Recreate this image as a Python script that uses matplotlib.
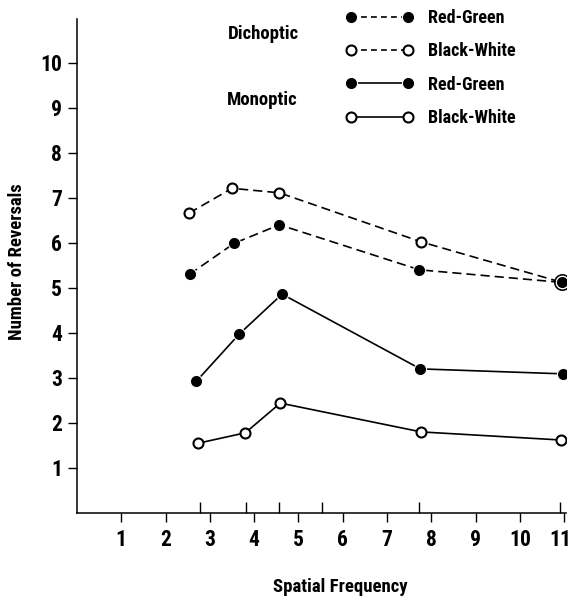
import matplotlib
matplotlib.use('Agg')
import matplotlib.pyplot as plt
import matplotlib.transforms as mtransforms
from matplotlib.lines import Line2D

plt.rcParams['font.family'] = ['Roboto Condensed', 'PT Sans Narrow', 'Archivo Narrow',
                               'Liberation Sans Narrow', 'DejaVu Sans']
plt.rcParams['font.weight'] = 'bold'

# Dichoptic
dich_rg_x = [2.54, 3.55, 4.57, 7.73, 10.95]
dich_rg_y = [5.30, 5.99, 6.40, 5.40, 5.12]
dich_bw_x = [2.53, 3.50, 4.57, 7.77, 10.95]
dich_bw_y = [6.66, 7.21, 7.11, 6.02, 5.12]

# Monoptic
mono_rg_x = [2.69, 3.66, 4.63, 7.75, 10.96]
mono_rg_y = [2.92, 3.97, 4.86, 3.20, 3.09]
mono_bw_x = [2.74, 3.80, 4.59, 7.77, 10.93]
mono_bw_y = [1.55, 1.78, 2.44, 1.80, 1.62]

x_ticks = list(range(1, 12))
x_inner_ticks = [2.77, 3.81, 4.57, 5.54, 7.71, 10.91]
y_ticks = list(range(1, 11))

fig = plt.figure(figsize=(5.72, 6.03), dpi=100)
ax = fig.add_axes([0.1346, 0.1493, 0.855, 0.8192])

lw = 1.2
dash = (5.5, 3)
filled = dict(marker='o', ms=8.8, mfc='black', mec='white', mew=0.8)
hollow = dict(marker='o', ms=7.2, mfc='white', mec='black', mew=1.5)

ax.plot(dich_bw_x, dich_bw_y, color='black', lw=lw, dashes=dash, zorder=2, **hollow)
# ring around points shared by both dichoptic series
for xa, ya in zip(dich_bw_x, dich_bw_y):
    for xb, yb in zip(dich_rg_x, dich_rg_y):
        if xa == xb and ya == yb:
            ax.plot([xa], [ya], marker='o', ms=11, mfc='white', mec='black', mew=1.2, zorder=3)
ax.plot(dich_rg_x, dich_rg_y, color='black', lw=lw, dashes=dash, zorder=4, **filled)
ax.plot(mono_rg_x, mono_rg_y, color='black', lw=lw, zorder=2, **filled)
ax.plot(mono_bw_x, mono_bw_y, color='black', lw=lw, zorder=2, **hollow)

ax.set_xlim(0, 11.04)
ax.set_ylim(0, 10.97)
ax.set_xticks(x_ticks)
ax.set_xticklabels([str(t) for t in x_ticks])
ax.set_xticks(x_inner_ticks, minor=True)
ax.set_yticks(y_ticks)
ax.set_yticklabels([str(t) for t in y_ticks])

ax.tick_params(axis='x', which='major', direction='out', length=6.5, width=1, pad=5, labelsize=15.5)
ax.tick_params(axis='x', which='minor', direction='in', length=8, width=1)
ax.tick_params(axis='y', which='major', direction='out', length=6.7, width=1, pad=4, labelsize=15.5)

# keep the last x label inside the picture
last = ax.get_xticklabels()[-1]
last.set_transform(last.get_transform() + mtransforms.ScaledTranslation(-3 / 72, 0, fig.dpi_scale_trans))

for s in ['top', 'right']:
    ax.spines[s].set_visible(False)
for s in ['left', 'bottom']:
    ax.spines[s].set_linewidth(1.1)

ax.set_xlabel('Spatial Frequency', fontsize=13.5, fontweight='bold')
ax.xaxis.label.set_va('center')
ax.xaxis.set_label_coords(0.538, -0.150)
ax.set_ylabel('Number of Reversals', fontsize=13.5, fontweight='bold')
ax.yaxis.label.set_va('center')
ax.yaxis.set_label_coords(-0.1227, 0.508)

# legend
handles = [
    Line2D([], [], color='black', lw=lw, dashes=(3.5, 2.5), **filled),
    Line2D([], [], color='black', lw=lw, dashes=(3.5, 2.5), **hollow),
    Line2D([], [], color='black', lw=lw, **filled),
    Line2D([], [], color='black', lw=lw, **hollow),
]
labels = ['Red-Green', 'Black-White', 'Red-Green', 'Black-White']
fig.legend(handles, labels, loc='upper left', bbox_to_anchor=(0.604, 0.985),
           numpoints=2, frameon=False, handlelength=3.77, handletextpad=0.8,
           labelspacing=0.85, borderpad=0, borderaxespad=0,
           prop={'size': 13, 'weight': 'bold'})

fig.text(263 / 572, 1 - 34 / 603, 'Dichoptic', ha='center', va='center', fontsize=13.5, fontweight='bold')
fig.text(262 / 572, 1 - 100 / 603, 'Monoptic', ha='center', va='center', fontsize=13.5, fontweight='bold')

fig.savefig('out.png', dpi=100)
